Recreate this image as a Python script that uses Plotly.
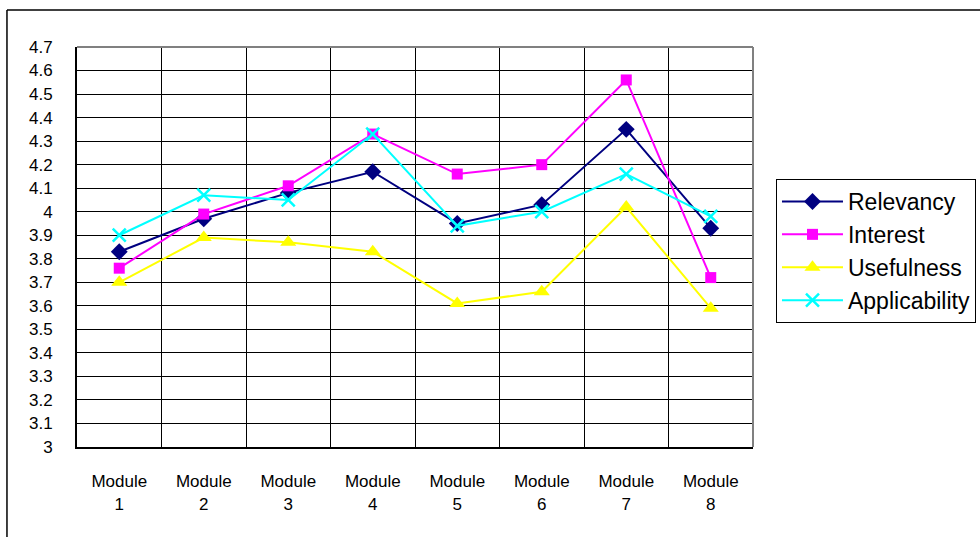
import plotly.graph_objects as go

# Course evaluation scores per module
modules = ["Module<br>1", "Module<br>2", "Module<br>3", "Module<br>4",
           "Module<br>5", "Module<br>6", "Module<br>7", "Module<br>8"]

relevancy = [3.83, 3.97, 4.08, 4.17, 3.95, 4.03, 4.35, 3.93]
interest = [3.76, 3.99, 4.11, 4.33, 4.16, 4.20, 4.56, 3.72]
usefulness = [3.70, 3.89, 3.87, 3.83, 3.61, 3.66, 4.02, 3.59]
applicability = [3.90, 4.07, 4.05, 4.33, 3.94, 4.00, 4.16, 3.98]

y_tick_values = [3.0, 3.1, 3.2, 3.3, 3.4, 3.5, 3.6, 3.7, 3.8, 3.9,
                 4.0, 4.1, 4.2, 4.3, 4.4, 4.5, 4.6, 4.7]
y_tick_labels = ["3", "3.1", "3.2", "3.3", "3.4", "3.5", "3.6", "3.7", "3.8", "3.9",
                 "4", "4.1", "4.2", "4.3", "4.4", "4.5", "4.6", "4.7"]

FONT = "Liberation Sans, Arial, sans-serif"

series = [
    ("Relevancy", relevancy, "#000080", "diamond", 13),
    ("Interest", interest, "#FF00FF", "square", 11),
    ("Usefulness", usefulness, "#FFFF00", "triangle-up", 14),
    ("Applicability", applicability, "#00FFFF", "x-thin", 13),
]

fig = go.Figure()
for name, vals, color, symbol, size in series:
    marker = dict(symbol=symbol, size=size, color=color)
    if symbol == "x-thin":
        marker["line"] = dict(color=color, width=2.5)
    fig.add_trace(go.Scatter(
        x=modules, y=vals, name=name, mode="lines+markers",
        line=dict(color=color, width=2), marker=marker, cliponaxis=False,
    ))

fig.update_layout(
    width=980, height=537,
    margin=dict(l=77, r=227, t=47, b=90, autoexpand=False),
    paper_bgcolor="white", plot_bgcolor="white",
    font=dict(family=FONT, size=17, color="black"),
    xaxis=dict(
        type="category", categoryarray=modules, tickson="boundaries",
        showgrid=True, gridcolor="black", gridwidth=1,
        showline=True, linecolor="black", linewidth=2,
        ticks="", ticklabelstandoff=18, tickfont=dict(size=17),
        range=[-0.5, 7.5], fixedrange=True, automargin=False,
    ),
    yaxis=dict(
        range=[3, 4.7], tickvals=y_tick_values, ticktext=y_tick_labels,
        showgrid=True, gridcolor="black", gridwidth=1,
        showline=True, linecolor="black", linewidth=2,
        zeroline=False, ticks="", ticklabelstandoff=19,
        tickfont=dict(size=17), automargin=False,
    ),
    legend=dict(
        x=1.034, y=0.67, xanchor="left", yanchor="top",
        bordercolor="black", borderwidth=1, bgcolor="white",
        font=dict(size=23, family=FONT), itemwidth=61,
        tracegroupgap=0,
    ),
    showlegend=True,
    shapes=[
        # gray top and right edges of the plotting area
        dict(type="line", xref="paper", yref="paper", x0=0, x1=1, y0=1, y1=1,
             line=dict(color="#808080", width=2)),
        dict(type="line", xref="paper", yref="paper", x0=1, x1=1, y0=0, y1=1,
             line=dict(color="#808080", width=2)),
        # outer chart frame
        dict(type="line", xref="paper", yref="paper", x0=-0.1036, x1=-0.1036,
             y0=1.0925, y1=-0.3, line=dict(color="black", width=1.5)),
        dict(type="line", xref="paper", yref="paper", x0=-0.1036, x1=1.4,
             y0=1.0925, y1=1.0925, line=dict(color="black", width=1.5)),
    ],
)

fig.write_html("out.html")
